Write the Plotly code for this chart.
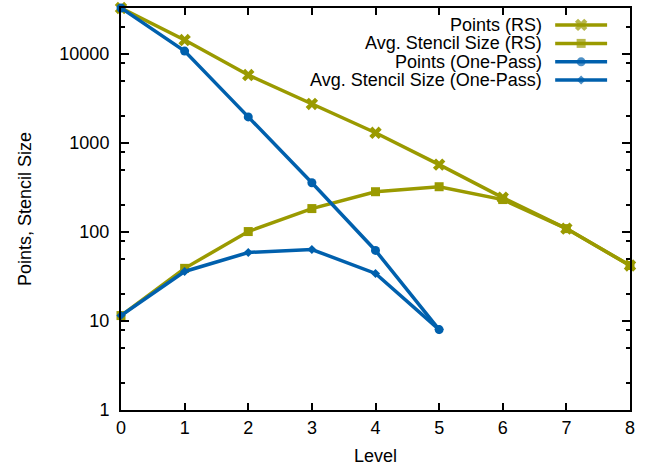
import math
import plotly.graph_objects as go

levels_rs = [0, 1, 2, 3, 4, 5, 6, 7, 8]
points_rs = [32768, 14300, 5790, 2740, 1300, 570, 243, 109, 42]
stencil_rs = [11.5, 39, 101, 183, 283, 322, 231, 109, 42]

levels_op = [0, 1, 2, 3, 4, 5]
points_op = [32768, 10750, 1960, 357, 62, 8]
stencil_op = [11.5, 36, 58.8, 63.5, 34.2, 8]

names = ["Points (RS)", "Avg. Stencil Size (RS)", "Points (One-Pass)", "Avg. Stencil Size (One-Pass)"]
y_tickvals = [1, 10, 100, 1000, 10000]
y_ticktext = ["1", "10", "100", "1000", "10000"]
x_tickvals = [0, 1, 2, 3, 4, 5, 6, 7, 8]

OLIVE = "#9a9a00"
BLUE = "#0060ad"
FONT = "Liberation Sans, Arial, sans-serif"
FS = 18
FT = 18
LW = 3.5

styles = [
    (OLIVE, "x", 11),
    (OLIVE, "square", 9),
    (BLUE, "circle", 9),
    (BLUE, "diamond", 7),
]
series = [
    (levels_rs, points_rs),
    (levels_rs, stencil_rs),
    (levels_op, points_op),
    (levels_op, stencil_op),
]

fig = go.Figure()
for (xs, ys), (col, sym, sz), nm in zip(series, styles, names):
    fig.add_trace(go.Scatter(
        x=xs, y=ys, name=nm, mode="lines+markers",
        line=dict(color=col, width=LW),
        marker=dict(symbol=sym, size=sz, color=col, line=dict(width=0)),
        showlegend=False, cliponaxis=False,
    ))

# custom legend (text right-aligned, sample on the right), gnuplot style
row_y = [0.958, 0.912, 0.866, 0.821]
x_l0, x_mid, x_l1, x_txt = 0.853, 0.904, 0.955, 0.832
for (col, sym, sz), nm, ry in zip(styles, names, row_y):
    fig.add_trace(go.Scatter(
        x=[x_l0, x_mid, x_l1], y=[ry, ry, ry], mode="lines+markers",
        line=dict(color=col, width=LW),
        marker=dict(symbol=sym, size=[0, sz, 0], color=col, line=dict(width=0)),
        xaxis="x2", yaxis="y2", showlegend=False, hoverinfo="skip",
    ))
    fig.add_annotation(
        x=x_txt, y=ry, xref="x2", yref="y2", text=nm, showarrow=False,
        xanchor="right", yanchor="middle",
        font=dict(family=FONT, size=FS, color="black"),
    )

minor_vals = []
for k in range(0, 5):
    for m in (2, 5, 8):
        v = m * 10 ** k
        if v < 32768:
            minor_vals.append(v)

fig.update_layout(
    width=653, height=466,
    margin=dict(l=121, r=23, t=8, b=56, autoexpand=False),
    paper_bgcolor="white", plot_bgcolor="white",
    font=dict(family=FONT, size=FS, color="black"),
    xaxis=dict(
        range=[0, 8], tickvals=x_tickvals, ticks="inside", ticklen=7,
        tickwidth=1.5, tickcolor="black", mirror="ticks", showline=True,
        linecolor="black", linewidth=2, showgrid=False, zeroline=False,
        automargin=False,
        title=dict(text="Level", standoff=13, font=dict(size=FT)),
        tickfont=dict(size=FS),
    ),
    yaxis=dict(
        type="log", range=[0, math.log10(32768)],
        tickvals=y_tickvals, ticktext=y_ticktext, ticks="inside", ticklen=8,
        tickwidth=1.5, tickcolor="black", mirror="ticks", showline=True,
        linecolor="black", linewidth=2, showgrid=False, zeroline=False,
        automargin=False, ticklabelstandoff=6,
        minor=dict(tickvals=minor_vals, ticks="inside", ticklen=4,
                   tickwidth=1.5, tickcolor="black", showgrid=False),
        title=dict(text="Points, Stencil Size", standoff=23, font=dict(size=FT)),
        tickfont=dict(size=FS),
    ),
    xaxis2=dict(range=[0, 1], overlaying="x", visible=False, fixedrange=True),
    yaxis2=dict(range=[0, 1], overlaying="y", visible=False, fixedrange=True),
)

fig.write_html("out.html", config={"displayModeBar": False},
               post_script="document.body.style.margin='0';")
